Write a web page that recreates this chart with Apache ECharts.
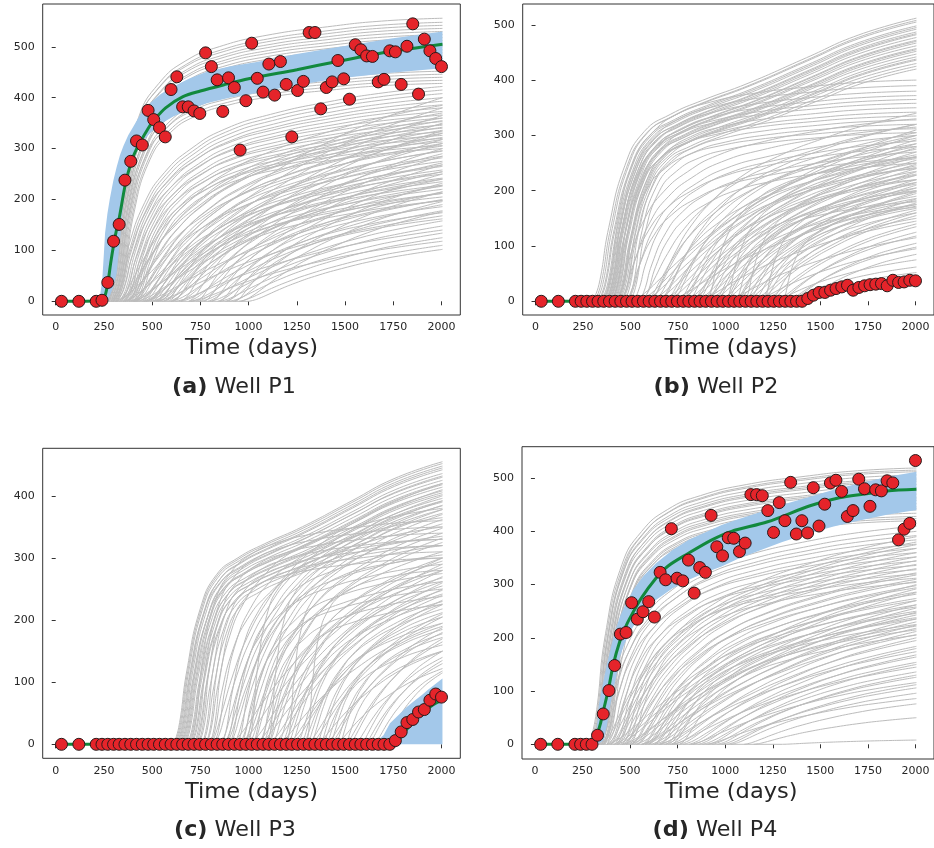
<!DOCTYPE html>
<html>
<head>
<meta charset="utf-8">
<title>Well production ensembles</title>
<script src="https://cdn.jsdelivr.net/npm/echarts@6/dist/echarts.min.js"></script>
<style>
  html, body { margin: 0; padding: 0; background: #ffffff; }
  #chart { width: 934px; height: 848px; }
</style>
</head>
<body>
<div id="chart"></div>
<script>
// ---- tick labels -------------------------------------------------------
const X_TICKS = [0, 250, 500, 750, 1000, 1250, 1500, 1750, 2000];
const Y_TICKS_P1 = [0, 100, 200, 300, 400, 500];
const Y_TICKS_P2 = [0, 100, 200, 300, 400, 500];
const Y_TICKS_P3 = [0, 100, 200, 300, 400];
const Y_TICKS_P4 = [0, 100, 200, 300, 400, 500];

// ---- observation days (shared by all wells) ---------------------------
const DAYS = [30, 120, 210, 240, 270, 300, 329, 359, 389, 419, 449, 479, 508, 538, 568, 598, 628,
  658, 687, 717, 747, 777, 807, 837, 866, 896, 926, 956, 986, 1016, 1045, 1075, 1105, 1135, 1165,
  1195, 1224, 1254, 1284, 1314, 1344, 1374, 1403, 1433, 1463, 1493, 1523, 1553, 1582, 1612, 1642,
  1672, 1702, 1732, 1761, 1791, 1821, 1851, 1881, 1911, 1940, 1970, 2000];

// ---- observed rates ----------------------------------------------------
const OBS_P1 = [0, 0, 0, 2, 37, 118, 151, 238, 275, 315, 307, 375, 357, 341, 323, 416, 441, 382, 382,
  374, 369, 488, 461, 435, 373, 439, 420, 297, 394, 507, 438, 411, 466, 405, 471, 426, 323, 414, 432,
  528, 528, 378, 420, 431, 473, 437, 397, 504, 494, 482, 481, 431, 436, 492, 490, 426, 501, 545, 407,
  515, 492, 477, 461];
const OBS_P2 = [0, 0, 0, 0, 0, 0, 0, 0, 0, 0, 0, 0, 0, 0, 0, 0, 0, 0, 0, 0, 0, 0, 0, 0, 0, 0, 0, 0, 0,
  0, 0, 0, 0, 0, 0, 0, 0, 0, 0, 0, 0, 0, 0, 5, 11, 16, 16, 20, 23, 26, 29, 20, 25, 28, 30, 31, 32, 28,
  38, 34, 35, 38, 37];
const OBS_P3 = [0, 0, 0, 0, 0, 0, 0, 0, 0, 0, 0, 0, 0, 0, 0, 0, 0, 0, 0, 0, 0, 0, 0, 0, 0, 0, 0, 0, 0,
  0, 0, 0, 0, 0, 0, 0, 0, 0, 0, 0, 0, 0, 0, 0, 0, 0, 0, 0, 0, 0, 0, 0, 0, 0, 6, 20, 35, 40, 52, 56,
  71, 81, 76];
const OBS_P4 = [0, 0, 0, 0, 0, 0, 17, 57, 101, 148, 207, 210, 266, 235, 249, 268, 239, 323, 309, 405,
  312, 307, 346, 284, 332, 323, 430, 371, 354, 388, 387, 362, 378, 469, 469, 467, 439, 398, 454, 420,
  492, 395, 420, 397, 482, 410, 451, 491, 496, 475, 428, 439, 498, 480, 447, 478, 476, 495, 491, 384,
  404, 415, 533];

// ---- posterior mean [day, rate] ---------------------------------------
const MEAN_P1 = [[30, 0], [240, 1], [255, 10], [270, 35], [285, 75], [300, 110], [315, 140], [330, 165],
  [360, 228], [390, 272], [420, 300], [480, 340], [510, 356], [570, 380], [660, 402], [750, 413],
  [870, 425], [1000, 437], [1250, 455], [1460, 471], [1730, 490], [2005, 505]];
const MEAN_P2 = [[30, 0], [1415, 0], [1440, 6], [1470, 10], [1500, 14], [1550, 18], [1600, 22],
  [1650, 24], [1700, 26], [1750, 28], [1800, 30], [1850, 32], [1900, 34], [1950, 36], [2005, 38]];
const MEAN_P3 = [[30, 0], [1755, 0], [1770, 4], [1790, 12], [1820, 24], [1850, 35], [1880, 45],
  [1910, 53], [1940, 60], [1970, 66], [2005, 72]];
const MEAN_P4 = [[30, 0], [300, 0], [315, 4], [326, 17], [345, 40], [361, 65], [386, 103], [412, 150],
  [445, 192], [476, 220], [499, 237], [560, 275], [636, 312], [700, 335], [803, 358], [930, 384],
  [1033, 400], [1223, 418], [1446, 448], [1600, 463], [1730, 470], [1850, 476], [2005, 479]];

// ---- posterior ensemble envelope [day, low, high] ---------------------
const BAND_P1 = [[216, 0, 0], [230, 0, 12], [241, 0, 40], [250, 0, 95], [256, 0, 134], [268, 3, 172],
  [280, 10, 200], [298, 28, 236], [316, 55, 264], [333, 120, 287], [351, 199, 305], [376, 250, 326],
  [402, 284, 343], [440, 310, 368], [489, 330, 389], [545, 349, 407], [610, 363, 422], [690, 377, 437],
  [783, 389, 451], [900, 400, 461], [1042, 409, 470], [1250, 425, 486], [1474, 438, 500],
  [1740, 449, 516], [2005, 458, 530]];
const BAND_P2 = [[1400, 0, 0], [1420, 0, 4], [1450, 2, 12], [1500, 8, 19], [1550, 12, 23], [1600, 16, 27],
  [1650, 19, 29], [1700, 21, 31], [1750, 24, 34], [1800, 26, 36], [1850, 28, 38], [1900, 29, 39],
  [1950, 31, 41], [2005, 33, 43]];
const BAND_P3 = [[1640, 0, 0], [1670, 0, 6], [1700, 0, 15], [1733, 0, 34], [1760, 0, 42], [1780, 0, 48],
  [1820, 0, 60], [1860, 0, 70], [1900, 0, 80], [1930, 0, 88], [1960, 0, 95], [2005, 0, 106]];
const BAND_P4 = [[300, 0, 0], [312, 0, 6], [320, 0, 15], [328, 1, 40], [335, 2, 71], [348, 4, 98],
  [361, 8, 120], [378, 35, 150], [395, 71, 175], [412, 103, 200], [429, 130, 221], [447, 165, 240],
  [472, 190, 260], [499, 210, 277], [516, 221, 290], [570, 248, 316], [636, 271, 340], [720, 292, 364],
  [809, 309, 384], [900, 323, 399], [981, 334, 412], [1060, 347, 422], [1150, 360, 432], [1300, 380, 450],
  [1446, 397, 465], [1570, 409, 478], [1700, 420, 490], [1850, 431, 502], [2005, 440, 512]];

// ---- prior ensemble: [onset day, rate at last day, rise profile] -------
// Rise profiles: fraction of the final rate reached at fractions of the
// time between onset and the last simulated day.
const CURVE_END_DAY = 2005;
const RISE_U = [0, 0.02, 0.05, 0.1, 0.16, 0.24, 0.34, 0.48, 0.66, 0.82, 1];
const RISE_PROFILES = [
  [0, 0.10, 0.40, 0.65, 0.77, 0.85, 0.90, 0.94, 0.97, 0.99, 1],   // 1 fast
  [0, 0.06, 0.25, 0.46, 0.60, 0.71, 0.80, 0.87, 0.93, 0.97, 1],   // 2 medium
  [0, 0.03, 0.12, 0.27, 0.41, 0.54, 0.66, 0.77, 0.87, 0.94, 1],   // 3 slow
  [0, 0.015, 0.05, 0.13, 0.23, 0.35, 0.48, 0.63, 0.79, 0.90, 1],  // 4 very slow
  [0, 0.06, 0.26, 0.48, 0.60, 0.66, 0.71, 0.77, 0.86, 0.94, 1]    // 5 two-stage
];

const GRAY_P1 = [
  [255, 556, 1], [260, 548, 1], [250, 542, 1], [265, 536, 1], [258, 530, 1], [270, 524, 1], [262, 518, 1],
  [275, 512, 1], [268, 506, 1], [280, 500, 1], [272, 494, 1], [285, 488, 1], [290, 482, 1], [278, 476, 1],
  [295, 470, 1], [300, 464, 1], [288, 458, 1], [305, 452, 1], [310, 446, 1], [298, 440, 1], [315, 434, 1],
  [320, 428, 1],
  [290, 422, 2], [300, 415, 2], [310, 408, 2], [320, 400, 2], [330, 393, 2], [300, 386, 2], [340, 380, 2],
  [350, 373, 2], [315, 366, 2], [360, 360, 2], [370, 353, 2], [335, 346, 2], [380, 340, 2], [390, 333, 2],
  [355, 326, 2], [400, 320, 2], [410, 313, 2], [375, 306, 2], [420, 300, 2],
  [320, 385, 3], [350, 370, 3], [380, 355, 3], [330, 342, 3], [400, 330, 3], [420, 318, 3], [360, 305, 3],
  [440, 295, 3], [460, 285, 3], [390, 275, 3], [480, 265, 3], [500, 258, 3], [430, 250, 3], [520, 242, 3],
  [540, 235, 3], [470, 228, 3], [560, 220, 3], [580, 212, 3], [510, 205, 3], [600, 198, 3],
  [340, 360, 3], [370, 348, 3], [410, 336, 3], [450, 322, 3], [490, 310, 3], [530, 296, 3], [570, 282, 3],
  [610, 268, 3], [650, 254, 3], [690, 240, 3], [730, 226, 3], [770, 212, 3], [810, 198, 3], [850, 186, 3],
  [890, 174, 3], [930, 162, 3],
  [350, 330, 4], [400, 310, 4], [450, 290, 4], [380, 272, 4], [500, 255, 4], [420, 240, 4], [550, 228, 4],
  [600, 215, 4], [460, 200, 4], [650, 190, 4], [700, 178, 4], [520, 168, 4], [750, 158, 4], [800, 148, 4],
  [620, 140, 4], [850, 134, 4], [900, 125, 4], [700, 118, 4], [950, 110, 4], [1000, 102, 4],
  [310, 400, 4], [360, 380, 4], [410, 365, 4], [470, 350, 4], [530, 335, 4], [590, 318, 4], [640, 300, 4],
  [690, 285, 4], [740, 268, 4], [790, 250, 4], [840, 232, 4], [880, 215, 4], [920, 196, 4], [960, 176, 4]
];
const GRAY_P2 = [
  [300, 512, 5], [310, 505, 5], [330, 498, 5], [345, 492, 5], [360, 487, 5], [370, 482, 5], [355, 477, 5],
  [380, 472, 5], [390, 467, 5], [365, 462, 5], [400, 457, 5], [410, 452, 5], [385, 447, 5], [420, 442, 5],
  [430, 436, 5], [395, 430, 5], [440, 425, 5], [450, 420, 5],
  [320, 508, 5], [335, 495, 5], [350, 484, 5], [375, 470, 5], [405, 455, 5], [425, 438, 5],
  [360, 400, 1], [375, 390, 1], [390, 380, 1], [405, 372, 1], [420, 365, 1], [380, 358, 1], [440, 350, 1],
  [455, 342, 1], [400, 335, 1], [470, 328, 1], [485, 320, 1], [430, 312, 1], [500, 305, 1],
  [420, 330, 2], [450, 315, 2], [480, 300, 2], [510, 290, 2], [440, 280, 2], [540, 270, 2], [470, 260, 2],
  [560, 250, 2],
  [550, 320, 3], [600, 305, 3], [650, 295, 3], [580, 285, 3], [700, 275, 3], [750, 265, 3], [620, 258, 3],
  [800, 250, 3], [680, 242, 3], [850, 235, 3], [900, 228, 3], [760, 220, 3], [950, 212, 3], [1000, 205, 3],
  [820, 198, 3], [1050, 190, 3], [1100, 182, 3], [900, 175, 3], [1150, 168, 3], [1200, 160, 3],
  [600, 340, 3], [660, 320, 3], [720, 300, 3], [780, 280, 3], [840, 262, 3], [880, 245, 3], [940, 230, 3],
  [990, 215, 3], [1060, 200, 3], [1120, 186, 3], [1180, 172, 3], [1240, 150, 3],
  [500, 300, 4], [560, 285, 4], [620, 270, 4], [680, 255, 4], [740, 240, 4], [800, 228, 4], [860, 215, 4],
  [920, 205, 4], [980, 195, 4], [1040, 185, 4], [700, 175, 4], [1100, 165, 4], [1160, 155, 4], [850, 145, 4],
  [1220, 135, 4], [1280, 125, 4], [1000, 115, 4], [1340, 105, 4], [1150, 95, 4], [1400, 85, 4], [1250, 75, 4],
  [1300, 62, 4], [1380, 52, 4],
  [540, 310, 4], [600, 292, 4], [660, 278, 4], [720, 262, 4], [780, 248, 4], [840, 234, 4], [900, 220, 4],
  [960, 210, 4], [1020, 198, 4], [1080, 178, 4], [1140, 160, 4], [1200, 140, 4], [1260, 118, 4], [1320, 98, 4],
  [900, 260, 2], [1000, 240, 2], [1100, 220, 2], [1200, 200, 2], [1050, 180, 2], [1300, 170, 2]
];
const GRAY_P3 = [
  [610, 455, 5], [620, 448, 5], [630, 442, 5], [640, 436, 5], [625, 430, 5], [650, 425, 5], [660, 420, 5],
  [645, 414, 5], [670, 408, 5], [680, 402, 5], [690, 396, 5], [700, 390, 5], [720, 384, 5], [740, 378, 5],
  [760, 372, 5],
  [615, 452, 5], [635, 445, 5], [655, 432, 5], [665, 418, 5], [685, 405, 5], [705, 392, 5],
  [700, 360, 1], [720, 350, 1], [740, 340, 1], [760, 330, 1], [780, 320, 1], [800, 310, 1], [730, 300, 1],
  [1000, 330, 1], [1100, 320, 1], [1200, 300, 1], [1300, 280, 1],
  [780, 380, 2], [820, 365, 2], [860, 350, 2], [800, 335, 2], [900, 320, 2], [940, 305, 2], [880, 290, 2],
  [980, 275, 2], [1020, 262, 2], [960, 250, 2], [1060, 238, 2], [1100, 225, 2],
  [800, 420, 3], [850, 400, 3], [900, 385, 3], [950, 370, 3], [880, 355, 3], [1000, 340, 3], [1050, 325, 3],
  [980, 310, 3], [1100, 295, 3], [1150, 280, 3], [1080, 268, 3], [1200, 255, 3], [1250, 242, 3], [1180, 230, 3],
  [1300, 218, 3], [1350, 205, 3], [1280, 195, 3], [1400, 185, 3], [1450, 172, 3], [1380, 160, 3], [1500, 150, 3],
  [820, 410, 3], [870, 392, 3], [920, 378, 3], [970, 362, 3], [1020, 348, 3], [1070, 332, 3], [1120, 300, 3],
  [1170, 285, 3], [1220, 262, 3], [1270, 248, 3], [1320, 226, 3], [1370, 212, 3], [1420, 190, 3], [1470, 178, 3],
  [900, 300, 4], [1000, 280, 4], [1100, 260, 4], [1050, 240, 4], [1200, 225, 4], [1300, 210, 4], [1150, 195, 4],
  [1400, 180, 4], [1500, 165, 4], [1350, 150, 4], [1550, 140, 4], [1600, 130, 4], [1450, 122, 4], [1650, 118, 4],
  [1700, 115, 4],
  [950, 290, 4], [1030, 270, 4], [1120, 250, 4], [1220, 232, 4], [1320, 205, 4], [1420, 188, 4], [1520, 170, 4],
  [1580, 150, 4], [1620, 135, 4]
];
const GRAY_P4 = [
  [285, 519, 1], [290, 512, 1], [300, 506, 1], [295, 500, 1], [305, 494, 1], [310, 488, 1], [320, 482, 1],
  [315, 476, 1], [330, 470, 1], [325, 464, 1], [340, 458, 1], [335, 452, 1], [350, 446, 1], [360, 440, 1],
  [345, 434, 1], [370, 428, 1], [380, 420, 1],
  [300, 515, 1], [312, 497, 1], [322, 479, 1], [338, 461, 1], [352, 443, 1], [365, 424, 1],
  [320, 410, 2], [340, 400, 2], [360, 392, 2], [330, 384, 2], [380, 376, 2], [400, 368, 2], [350, 360, 2],
  [420, 352, 2], [440, 344, 2], [390, 336, 2], [460, 328, 2], [480, 320, 2], [430, 312, 2], [500, 304, 2],
  [350, 390, 3], [380, 375, 3], [420, 360, 3], [450, 345, 3], [400, 330, 3], [480, 318, 3], [510, 306, 3],
  [460, 294, 3], [540, 282, 3], [570, 270, 3], [520, 258, 3], [600, 246, 3], [630, 235, 3], [580, 225, 3],
  [660, 215, 3], [700, 205, 3],
  [360, 380, 3], [395, 368, 3], [435, 352, 3], [470, 338, 3], [505, 322, 3], [535, 310, 3], [565, 298, 3],
  [595, 286, 3], [625, 274, 3], [655, 262, 3], [690, 250, 3], [720, 238, 3], [760, 222, 3],
  [380, 300, 4], [430, 285, 4], [480, 270, 4], [530, 256, 4], [460, 243, 4], [580, 230, 4], [630, 218, 4],
  [560, 206, 4], [680, 195, 4], [730, 184, 4], [650, 174, 4], [780, 164, 4], [830, 154, 4], [720, 145, 4],
  [880, 136, 4], [930, 126, 4], [820, 116, 4], [980, 106, 4], [1030, 96, 4], [900, 86, 4], [1100, 76, 4],
  [1150, 50, 4], [1300, 8, 4],
  [410, 292, 4], [500, 262, 4], [560, 248, 4], [610, 236, 4], [660, 224, 4], [710, 212, 4], [760, 200, 4],
  [810, 180, 4], [860, 168, 4], [910, 150, 4], [960, 130, 4], [1010, 112, 4]
];

// ---- styling -----------------------------------------------------------
const FONT = 'DejaVu Sans';
const INK = '#262626';
const PRIOR_COLOR = '#bcbcbc';
const POSTERIOR_COLOR = '#a3c8ea';
const MEAN_COLOR = '#12893d';
const OBS_COLOR = '#e5242a';

const PANELS = [
  { grid: { left: 42.7, top: 4, width: 417.6, height: 311 }, x: [-67.4, 2097.5], y: [-26.9, 584],
    yTicks: Y_TICKS_P1, obs: OBS_P1, mean: MEAN_P1, band: BAND_P1, prior: GRAY_P1,
    tag: '(a)', well: 'Well P1', nameX: 251.5, nameY: 349, capX: 234, capY: 387.5 },
  { grid: { left: 522.7, top: 4, width: 416.5, height: 311 }, x: [-67.6, 2097.5], y: [-24.8, 537.6],
    yTicks: Y_TICKS_P2, obs: OBS_P2, mean: MEAN_P2, band: BAND_P2, prior: GRAY_P2,
    tag: '(b)', well: 'Well P2', nameX: 731, nameY: 349, capX: 716, capY: 387.5 },
  { grid: { left: 42.7, top: 448.3, width: 417.6, height: 310 }, x: [-67.4, 2097.5], y: [-22.5, 476.6],
    yTicks: Y_TICKS_P3, obs: OBS_P3, mean: MEAN_P3, band: BAND_P3, prior: GRAY_P3,
    tag: '(c)', well: 'Well P3', nameX: 251.5, nameY: 792.5, capX: 235, capY: 831 },
  { grid: { left: 522, top: 446.7, width: 418.5, height: 312.3 }, x: [-68, 2097.5], y: [-27.6, 559],
    yTicks: Y_TICKS_P4, obs: OBS_P4, mean: MEAN_P4, band: BAND_P4, prior: GRAY_P4,
    tag: '(d)', well: 'Well P4', nameX: 731, nameY: 792.5, capX: 715, capY: 831 }
];

function priorCurve(member) {
  const onset = member[0], last = member[1], profile = RISE_PROFILES[member[2] - 1];
  return RISE_U.map((u, i) => [onset + (CURVE_END_DAY - onset) * u, last * profile[i]]);
}

const plainNumber = v => String(v);
const grids = [], xAxes = [], yAxes = [], series = [], graphics = [];

PANELS.forEach((p, i) => {
  grids.push(Object.assign({ show: true, borderColor: '#333333', borderWidth: 1,
    backgroundColor: 'transparent', containLabel: false }, p.grid));

  xAxes.push({
    type: 'value', gridIndex: i, min: p.x[0], max: p.x[1],
    axisLine: { show: false },
    axisTick: { show: true, length: 4, lineStyle: { color: '#333333', width: 1 }, customValues: X_TICKS },
    axisLabel: { customValues: X_TICKS, formatter: plainNumber, fontSize: 11, fontFamily: FONT,
      color: INK, margin: 7 },
    splitLine: { show: false }
  });
  yAxes.push({
    type: 'value', gridIndex: i, min: p.y[0], max: p.y[1],
    axisLine: { show: false },
    axisTick: { show: true, length: 4, lineStyle: { color: '#333333', width: 1 }, customValues: p.yTicks },
    axisLabel: { customValues: p.yTicks, formatter: plainNumber, fontSize: 11, fontFamily: FONT,
      color: INK, margin: 8 },
    splitLine: { show: false }
  });

  // prior ensemble: a shared zero run before each member starts rising
  const lastOnset = Math.max.apply(null, p.prior.map(m => m[0]));
  series.push({
    type: 'line', xAxisIndex: i, yAxisIndex: i, data: [[DAYS[0], 0], [lastOnset, 0]],
    symbol: 'none', silent: true, z: 1, lineStyle: { color: PRIOR_COLOR, width: 1 }
  });
  p.prior.forEach(m => {
    series.push({
      type: 'line', xAxisIndex: i, yAxisIndex: i, data: priorCurve(m), smooth: 0.5,
      symbol: 'none', silent: true, z: 1, lineStyle: { color: PRIOR_COLOR, width: 1 }
    });
  });

  // posterior envelope, filled between its low and high edges
  const band = p.band;
  series.push({
    type: 'custom', xAxisIndex: i, yAxisIndex: i, data: band, silent: true, z: 2,
    encode: { x: 0, y: [1, 2] },
    renderItem: (params, api) => {
      if (params.dataIndex !== 0) return null;
      const upper = band.map(b => api.coord([b[0], b[2]]));
      const lower = band.slice().reverse().map(b => api.coord([b[0], b[1]]));
      return {
        type: 'polygon',
        shape: { points: upper.concat(lower) },
        style: { fill: POSTERIOR_COLOR, stroke: null }
      };
    }
  });

  // posterior mean
  series.push({
    type: 'line', xAxisIndex: i, yAxisIndex: i, data: p.mean, smooth: 0.3,
    symbol: 'none', silent: true, z: 3, lineStyle: { color: MEAN_COLOR, width: 3 }
  });

  // observations
  series.push({
    type: 'scatter', xAxisIndex: i, yAxisIndex: i, data: DAYS.map((d, k) => [d, p.obs[k]]),
    symbol: 'circle', symbolSize: 12, silent: true, z: 4,
    itemStyle: { color: OBS_COLOR, borderColor: '#2a1a1a', borderWidth: 1, opacity: 1 }
  });

  graphics.push({
    type: 'text', x: p.nameX, y: p.nameY, scaleX: 1.1, silent: true,
    style: { text: 'Time (days)', fontFamily: FONT, fontSize: 20.5, fill: INK,
      align: 'center', verticalAlign: 'middle' }
  });
  graphics.push({
    type: 'text', x: p.capX, y: p.capY, scaleX: 1.06, silent: true,
    style: { text: '{b|' + p.tag + '} ' + p.well, fontFamily: FONT, fontSize: 21, fill: INK,
      align: 'center', verticalAlign: 'middle',
      rich: { b: { fontFamily: FONT, fontSize: 21, fontWeight: 'bold', fill: INK } } }
  });
});

const chart = echarts.init(document.getElementById('chart'), null, { renderer: 'canvas' });
chart.setOption({
  animation: false,
  backgroundColor: '#ffffff',
  grid: grids,
  xAxis: xAxes,
  yAxis: yAxes,
  series: series,
  graphic: graphics
});
</script>
</body>
</html>
